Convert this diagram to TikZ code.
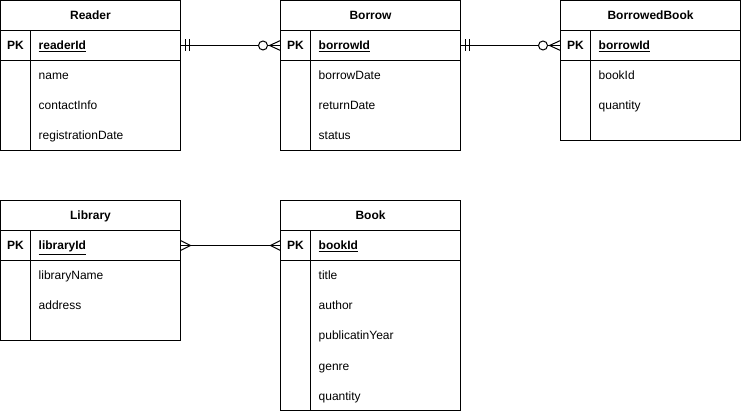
\documentclass[tikz,border=0pt]{standalone}
\usepackage{fontspec}
\setmainfont{Liberation Sans}
\usetikzlibrary{calc}
\tikzset{
  ent/.style={draw, line width=1pt, anchor=north west, minimum width=180pt, inner sep=0pt, outer sep=0pt},
  ttl/.style={font=\bfseries\fontsize{12}{14}\selectfont, anchor=base, inner sep=0pt},
  pklbl/.style={font=\bfseries\fontsize{12}{14}\selectfont, anchor=base, inner sep=0pt},
  fld/.style={font=\fontsize{12}{14}\selectfont, anchor=base west, inner sep=0pt},
  pkf/.style={font=\bfseries\fontsize{12}{14}\selectfont, anchor=base west, inner sep=0pt},
  rel/.style={line width=1pt, line cap=butt},
}
\newcommand\erEntity[7]{%
  \node[ent, minimum height=#4pt] (#1) at (#2,#3) {};
  \node[ttl] (#1-t) at ($(#1.north west)+(90,19.5)$) {#5};
  \draw[rel] ($(#1.north west)+(0,30)$) -- ($(#1.north east)+(0,30)$);
  \draw[rel] ($(#1.north west)+(0,60)$) -- ($(#1.north east)+(0,60)$);
  \draw[rel] ($(#1.north west)+(30,30)$) -- ($(#1.south west)+(30,0)$);
  \node[pklbl] (#1-pkl) at ($(#1.north west)+(15,49.5)$) {PK};
  \node[pkf] (#1-pkf) at ($(#1.north west)+(38,49.5)$) {\underline{#6}};
  \coordinate (#1-pkw) at ($(#1.north west)+(0,45)$);
  \coordinate (#1-pke) at ($(#1.north east)+(0,45)$);
  \foreach \f [count=\i] in {#7} {
    \node[fld] (#1-f\i) at ($(#1.north west)+(38,49.5+30*\i)$) {\f};
  }
}
\begin{document}
\begin{tikzpicture}[x=1pt, y=-1pt]
\useasboundingbox (0,0) rectangle (741,411);

\erEntity{reader}{0.5}{0.5}{150}{Reader}{readerId}{name,contactInfo,registrationDate}
\erEntity{borrow}{280.5}{0.5}{150}{Borrow}{borrowId}{borrowDate,returnDate,status}
\erEntity{bbook}{560.5}{0.5}{140}{BorrowedBook}{borrowId}{bookId,quantity}
\erEntity{library}{0.5}{200.5}{140}{Library}{libraryId}{libraryName,address}
\erEntity{book}{280.5}{200.5}{210}{Book}{bookId}{title,author,publicatinYear,genre,quantity}

% Reader -- Borrow : mandatory one to zero-or-many
\draw[rel] (reader-pke) -- (borrow-pkw);
\draw[rel] ($(reader-pke)+(5,-6)$) -- ($(reader-pke)+(5,6)$);
\draw[rel] ($(reader-pke)+(9,-6)$) -- ($(reader-pke)+(9,6)$);
\draw[rel] ($(borrow-pkw)+(-11,0)$) -- ($(borrow-pkw)+(0,-5)$);
\draw[rel] ($(borrow-pkw)+(-11,0)$) -- ($(borrow-pkw)+(0,5)$);
\draw[rel, fill=white] ($(borrow-pkw)+(-17.5,0)$) circle[radius=4.5];

% Borrow -- BorrowedBook : mandatory one to zero-or-many
\draw[rel] (borrow-pke) -- (bbook-pkw);
\draw[rel] ($(borrow-pke)+(5,-6)$) -- ($(borrow-pke)+(5,6)$);
\draw[rel] ($(borrow-pke)+(9,-6)$) -- ($(borrow-pke)+(9,6)$);
\draw[rel] ($(bbook-pkw)+(-11,0)$) -- ($(bbook-pkw)+(0,-5)$);
\draw[rel] ($(bbook-pkw)+(-11,0)$) -- ($(bbook-pkw)+(0,5)$);
\draw[rel, fill=white] ($(bbook-pkw)+(-17.5,0)$) circle[radius=4.5];

% Library -- Book : many to many
\draw[rel] (library-pke) -- (book-pkw);
\draw[rel] ($(library-pke)+(0,-5)$) -- ($(library-pke)+(10,0)$) -- ($(library-pke)+(0,5)$);
\draw[rel] ($(book-pkw)+(0,-5)$) -- ($(book-pkw)+(-10,0)$) -- ($(book-pkw)+(0,5)$);
\end{tikzpicture}
\end{document}
